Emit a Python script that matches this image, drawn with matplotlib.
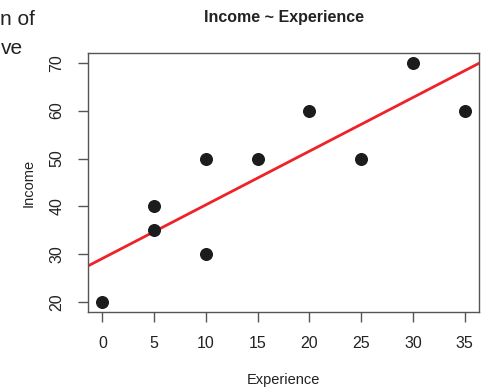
import numpy as np
import matplotlib.pyplot as plt

plt.rcParams['font.family'] = ['Liberation Sans', 'DejaVu Sans']

experience = [0, 5, 5, 10, 10, 15, 20, 25, 30, 35]
income = [20, 40, 35, 50, 30, 50, 60, 50, 70, 60]
x_ticks = [0, 5, 10, 15, 20, 25, 30, 35]
y_ticks = [20, 30, 40, 50, 60, 70]

fig = plt.figure(figsize=(4.83, 3.90), dpi=100)
ax = fig.add_axes([0.182, 0.2, 0.81, 0.664])

ax.scatter(experience, income, s=70, color='#1c1c1c', zorder=3)

# least squares line across the whole plot region
slope, intercept = np.polyfit(experience, income, 1)
xmin, xmax = -1.4, 36.4
ax.plot([xmin, xmax], [intercept + slope * xmin, intercept + slope * xmax],
        color='#ee2229', lw=2.0, zorder=2)

ax.set_xlim(xmin, xmax)
ax.set_ylim(18, 72)
ax.set_xticks(x_ticks)
ax.set_yticks(y_ticks)
ax.set_yticklabels([str(v) for v in y_ticks], rotation=90, va='center')
ax.tick_params(direction='out', length=7, width=1, color='#555555',
               labelsize=11.5, pad=10, labelcolor='#222222')
for sp in ax.spines.values():
    sp.set_color('#555555')
    sp.set_linewidth(1)

ax.set_title('Income ~ Experience', fontsize=11.5, fontweight='bold', pad=22,
             color='#222222')
ax.set_xlabel('Experience', fontsize=10.5, labelpad=16, color='#222222')
ax.set_ylabel('Income', fontsize=10.5, labelpad=10, color='#222222')

# surrounding page text
fig.text(0.0, 0.975, 'n of', fontsize=15, va='top', ha='left', color='#222222')
fig.text(0.002, 0.9, 've', fontsize=15, va='top', ha='left', color='#222222')

fig.savefig('out.png', dpi=100)
